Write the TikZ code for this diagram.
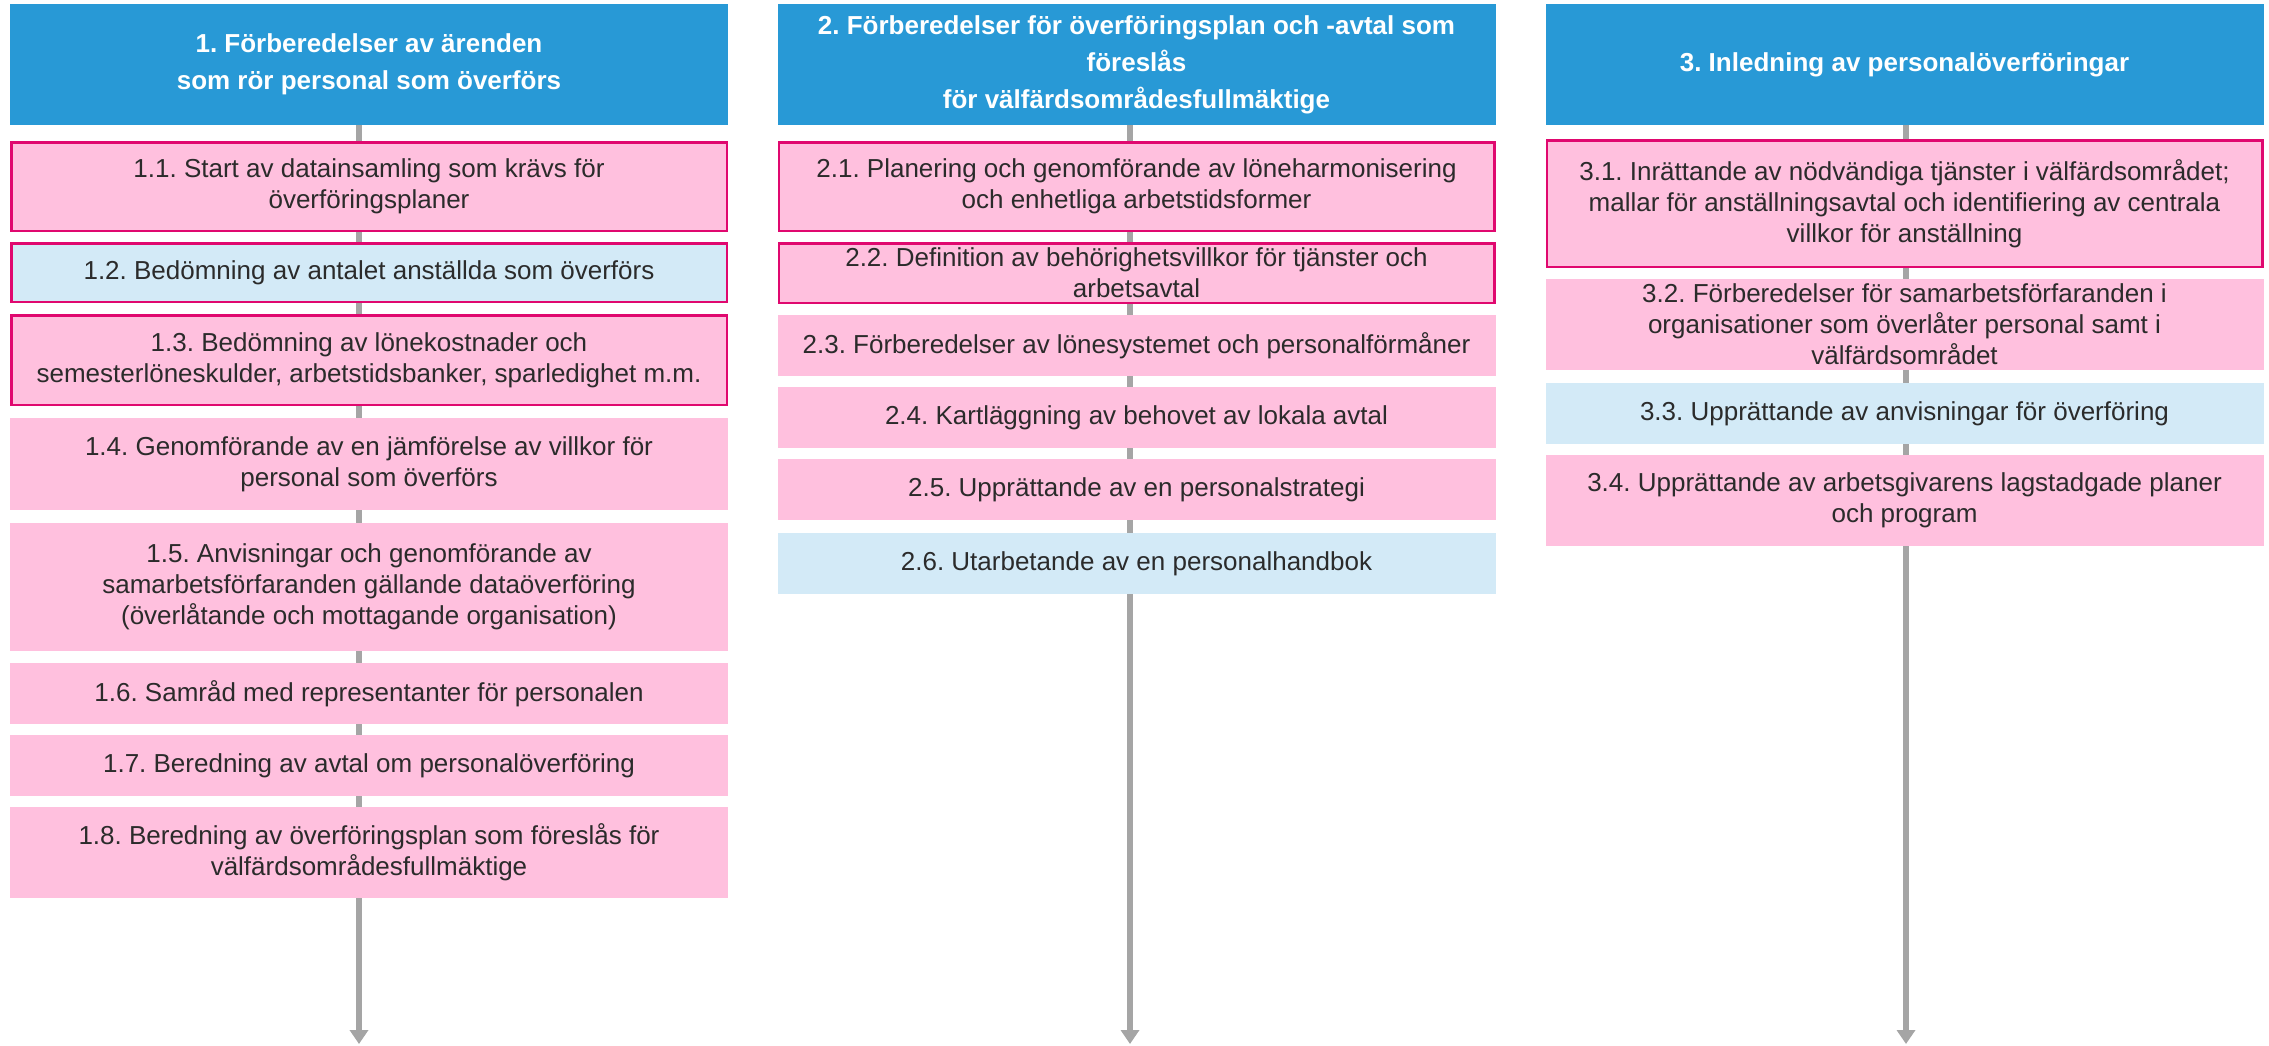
\documentclass[tikz,border=0pt]{standalone}
\usepackage{fontspec}
\setmainfont{Liberation Sans}
\usepackage{tikz}
\usetikzlibrary{arrows.meta, backgrounds, positioning}
\definecolor{hdrblue}{HTML}{2899D6}
\definecolor{pinkfill}{HTML}{FFC0DE}
\definecolor{edgepink}{HTML}{E0086F}
\definecolor{infoblue}{HTML}{D3EAF7}
\definecolor{flowgray}{HTML}{A5A5A5}
\definecolor{txtgray}{HTML}{2B2B2B}
\frenchspacing

\begin{document}
\begin{tikzpicture}[x=1pt, y=-1pt,
    hdr/.style={fill=hdrblue, text=white, font=\bfseries\fontsize{26}{37}\selectfont, align=center, minimum width=718pt, minimum height=121pt, inner sep=0pt},
    task/.style={fill=pinkfill, text=txtgray, font=\fontsize{26}{31}\selectfont, align=center, minimum width=718pt, inner xsep=2pt, inner ysep=0pt},
    info/.style={task, fill=infoblue},
    marked/.style={draw=edgepink, line width=2.5pt, minimum width=715.5pt},
    flow/.style={draw=flowgray, line width=6.5pt, -{Triangle[width=18pt, length=14pt]}}]
    \useasboundingbox (0,0) rectangle (2269,1045);

    % column 1
    \node (H1) [hdr] at (369,64.5) {1. Förberedelser av ärenden\\som rör personal som överförs};
    \node (S11) [task, marked, minimum height=88.5pt] at (369,186.5) {1.1. Start av datainsamling som krävs för\\överföringsplaner};
    \node (S12) [info, marked, minimum height=58.5pt] at (369,272.5) {1.2. Bedömning av antalet anställda som överförs};
    \node (S13) [task, marked, minimum height=89.5pt] at (369,360) {1.3. Bedömning av lönekostnader och\\semesterlöneskulder, arbetstidsbanker, sparledighet m.m.};
    \node (S14) [task, minimum height=92pt] at (369,464) {1.4. Genomförande av en jämförelse av villkor för\\personal som överförs};
    \node (S15) [task, minimum height=128pt] at (369,587) {1.5. Anvisningar och genomförande av\\samarbetsförfaranden gällande dataöverföring\\(överlåtande och mottagande organisation)};
    \node (S16) [task, minimum height=61pt] at (369,693.5) {1.6. Samråd med representanter för personalen};
    \node (S17) [task, minimum height=61pt] at (369,765.5) {1.7. Beredning av avtal om personalöverföring};
    \node (S18) [task, minimum height=91pt] at (369,852.5) {1.8. Beredning av överföringsplan som föreslås för\\välfärdsområdesfullmäktige};

    % column 2
    \node (H2) [hdr] at (1136.5,64.5) {2. Förberedelser för överföringsplan och -avtal som\\föreslås\\för välfärdsområdesfullmäktige};
    \node (S21) [task, marked, minimum height=88.5pt] at (1136.5,186.5) {2.1. Planering och genomförande av löneharmonisering\\och enhetliga arbetstidsformer};
    \node (S22) [task, marked, minimum height=59.5pt] at (1136.5,273) {2.2. Definition av behörighetsvillkor för tjänster och\\arbetsavtal};
    \node (S23) [task, minimum height=61pt] at (1136.5,345.5) {2.3. Förberedelser av lönesystemet och personalförmåner};
    \node (S24) [task, minimum height=61pt] at (1136.5,417.5) {2.4. Kartläggning av behovet av lokala avtal};
    \node (S25) [task, minimum height=61pt] at (1136.5,489.5) {2.5. Upprättande av en personalstrategi};
    \node (S26) [info, minimum height=61pt] at (1136.5,563.5) {2.6. Utarbetande av en personalhandbok};

    % column 3
    \node (H3) [hdr] at (1904.5,64.5) {3. Inledning av personalöverföringar};
    \node (S31) [task, marked, minimum height=126.5pt] at (1904.5,203.5) {3.1. Inrättande av nödvändiga tjänster i välfärdsområdet;\\mallar för anställningsavtal och identifiering av centrala\\villkor för anställning};
    \node (S32) [task, minimum height=91pt] at (1904.5,324.5) {3.2. Förberedelser för samarbetsförfaranden i\\organisationer som överlåter personal samt i\\välfärdsområdet};
    \node (S33) [info, minimum height=61pt] at (1904.5,413.5) {3.3. Upprättande av anvisningar för överföring};
    \node (S34) [task, minimum height=91pt] at (1904.5,500.5) {3.4. Upprättande av arbetsgivarens lagstadgade planer\\och program};

    \coordinate (T1) at (359,1044);
    \coordinate (T2) at (1130,1044);
    \coordinate (T3) at (1906,1044);

    \begin{scope}[on background layer]
    \draw [flow] (H1.south -| T1) -- (T1);
    \draw [flow] (H2.south -| T2) -- (T2);
    \draw [flow] (H3.south -| T3) -- (T3);
    \end{scope}
\end{tikzpicture}
\end{document}
